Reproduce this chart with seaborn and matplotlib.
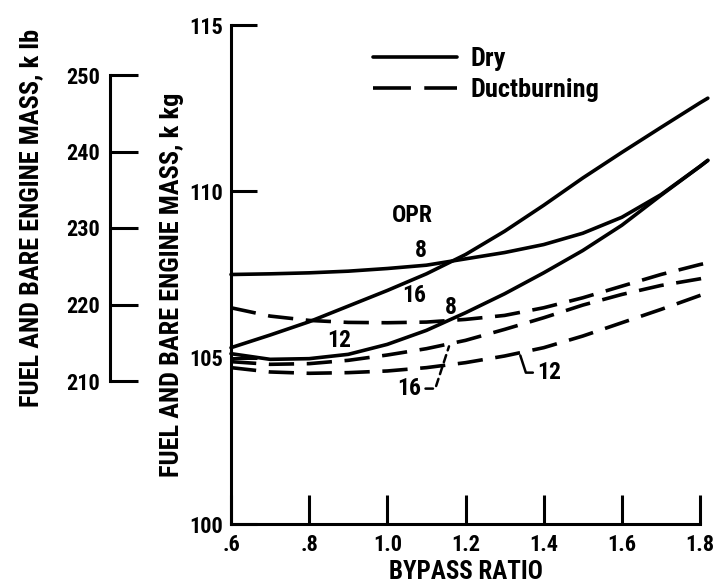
import numpy as np
import pandas as pd
import matplotlib
matplotlib.use("Agg")
import matplotlib.pyplot as plt
import seaborn as sns
from matplotlib.lines import Line2D

# ---------------- data ----------------
bypass_ratio = [0.6, 0.7, 0.8, 0.9, 1.0, 1.1, 1.2, 1.3, 1.4, 1.5, 1.6, 1.7, 1.8, 1.82]
dry_opr8 = [107.5, 107.52, 107.55, 107.6, 107.68, 107.78, 107.97, 108.16, 108.4, 108.74, 109.22, 109.9, 110.75, 110.93]
dry_opr12 = [105.12, 104.95, 104.97, 105.1, 105.4, 105.82, 106.35, 106.92, 107.55, 108.22, 108.98, 109.88, 110.75, 110.93]
dry_opr16 = [105.3, 105.68, 106.08, 106.55, 107.02, 107.52, 108.1, 108.8, 109.58, 110.4, 111.17, 111.92, 112.66, 112.8]
duct_opr8 = [106.5, 106.25, 106.12, 106.06, 106.05, 106.07, 106.15, 106.27, 106.5, 106.8, 107.15, 107.5, 107.8, 107.85]
duct_opr12 = [104.7, 104.57, 104.53, 104.55, 104.6, 104.7, 104.85, 105.05, 105.3, 105.65, 106.05, 106.45, 106.87, 106.95]
duct_opr16 = [104.88, 104.8, 104.82, 104.92, 105.08, 105.27, 105.52, 105.85, 106.2, 106.58, 106.9, 107.17, 107.37, 107.42]

modes = ["Dry", "Ductburning"]
x_ticks = [0.6, 0.8, 1.0, 1.2, 1.4, 1.6, 1.8]
x_tick_labels = [".6", ".8", "1.0", "1.2", "1.4", "1.6", "1.8"]
kg_ticks = [100, 105, 110, 115]
lb_ticks = [210, 220, 230, 240, 250]

series = [
    ("Dry 8", "Dry", dry_opr8),
    ("Dry 12", "Dry", dry_opr12),
    ("Dry 16", "Dry", dry_opr16),
    ("Duct 8", "Ductburning", duct_opr8),
    ("Duct 12", "Ductburning", duct_opr12),
    ("Duct 16", "Ductburning", duct_opr16),
]
rows = []
for name, mode, vals in series:
    for xv, yv in zip(bypass_ratio, vals):
        rows.append({"curve": name, "mode": mode, "bpr": xv, "mass": yv})
df = pd.DataFrame(rows)

# ---------------- style ----------------
sns.set_style("ticks")
plt.rcParams["font.family"] = ["Roboto Condensed", "DejaVu Sans"]
plt.rcParams["font.weight"] = "bold"
plt.rcParams["axes.labelweight"] = "bold"
plt.rcParams["text.color"] = "black"
plt.rcParams["axes.labelcolor"] = "black"
plt.rcParams["xtick.color"] = "black"
plt.rcParams["ytick.color"] = "black"

TICK_FS = 16
LAB_FS = 19
XLAB_FS = 18
CURVE_FS = 17

W, H = 725, 585
fig = plt.figure(figsize=(W / 100, H / 100), dpi=100)
fig.patch.set_facecolor("white")

def fx(px):
    return px / W

def fy(py):
    return 1 - py / H

# main axes: x .6 at px 231, 1.8 at px 700; y 100 at py 524, 115 at py 25
ax = fig.add_axes([fx(231), fy(524), (700 - 231) / W, (524 - 25) / H])
ax.set_facecolor("none")

sns.lineplot(
    data=df, x="bpr", y="mass", units="curve", estimator=None,
    style="mode", style_order=modes,
    dashes={"Dry": "", "Ductburning": (7, 3.5)},
    color="black", lw=2.6, legend=False, sort=False, ax=ax, clip_on=False,
)

ax.set_xlim(0.6, 1.8)
ax.set_ylim(100, 115)
ax.set_xticks(x_ticks)
ax.set_xticklabels(x_tick_labels)
ax.set_yticks(kg_ticks)
ax.set_yticklabels([str(t) for t in kg_ticks])
ax.tick_params(axis="x", direction="in", length=21, width=2.2, pad=7, labelsize=TICK_FS, colors="black")
ax.tick_params(axis="y", direction="in", length=19, width=2.2, pad=6, labelsize=TICK_FS, colors="black")
sns.despine(ax=ax)
for s in ("left", "bottom"):
    ax.spines[s].set_linewidth(2.2)
    ax.spines[s].set_color("black")
ax.set_xlabel("BYPASS RATIO", fontsize=XLAB_FS, fontweight="bold", labelpad=3)
ax.set_ylabel("FUEL AND BARE ENGINE MASS, k kg", fontsize=LAB_FS, fontweight="bold")
ax.yaxis.set_label_coords((184 - 231) / 469, (524 - 285) / 499)

# legend
handles = [
    Line2D([], [], color="black", lw=2.6),
    Line2D([], [], color="black", lw=2.6, dashes=(10.5, 3.7)),
]
ax.legend(
    handles, modes, loc="upper left", bbox_to_anchor=(fx(373), fy(47)),
    bbox_transform=fig.transFigure, frameon=False, fontsize=LAB_FS,
    handlelength=3.2, handletextpad=0.5, labelspacing=0.28,
    borderpad=0, borderaxespad=0,
)

# curve labels
txt = dict(fontsize=CURVE_FS, fontweight="bold", ha="center", va="center")
ax.text(1.064, 109.28, "OPR", **txt)
ax.text(1.085, 108.22, "8", **txt)
ax.text(1.069, 106.87, "16", **txt)
ax.text(1.162, 106.5, "8", **txt)
ax.text(0.877, 105.51, "12", **txt)

x_arr = np.array(bypass_ratio)
y16 = float(np.interp(1.16, x_arr, duct_opr16))
y12 = float(np.interp(1.338, x_arr, duct_opr12))
ax.annotate("16", xy=(1.16, y16), xytext=(1.055, 104.07), **txt,
            arrowprops=dict(arrowstyle="-", lw=1.8, ls=(0, (3, 2)), color="black",
                            shrinkA=1, shrinkB=2,
                            connectionstyle="angle,angleA=0,angleB=72,rad=0"))
ax.annotate("12", xy=(1.338, y12), xytext=(1.415, 104.55), **txt,
            arrowprops=dict(arrowstyle="-", lw=1.8, color="black",
                            shrinkA=1, shrinkB=2,
                            connectionstyle="angle,angleA=0,angleB=108,rad=0"))

# secondary (k lb) scale: spine at px 110, 250 at py 75, 210 at py 381
ax2 = fig.add_axes([fx(110), fy(381), 40 / W, (381 - 75) / H])
ax2.set_facecolor("none")
ax2.set_ylim(210, 250)
ax2.set_yticks(lb_ticks)
ax2.set_yticklabels([str(t) for t in lb_ticks])
ax2.set_xticks([])
for s in ("top", "right", "bottom"):
    ax2.spines[s].set_visible(False)
ax2.spines["left"].set_linewidth(2.2)
ax2.spines["left"].set_color("black")
ax2.tick_params(axis="y", direction="in", length=20, width=2.2, pad=7, labelsize=TICK_FS, colors="black")
ax2.set_ylabel("FUEL AND BARE ENGINE MASS, k lb", fontsize=LAB_FS, fontweight="bold")
ax2.yaxis.set_label_coords((43 - 110) / 40, (381 - 218) / 306)

fig.savefig("out.png", dpi=100, facecolor="white")
